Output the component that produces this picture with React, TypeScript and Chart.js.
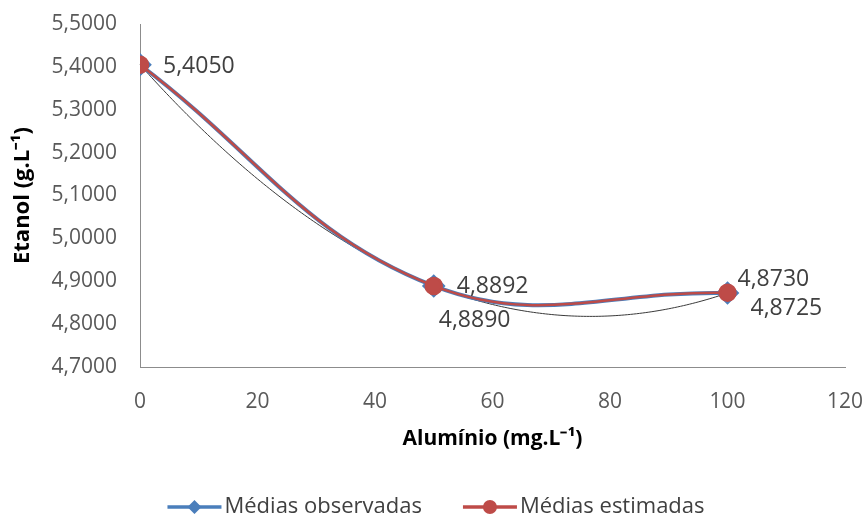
import React, { useEffect, useRef } from "react";
import { Chart, registerables } from "chart.js";

Chart.register(...registerables);

const aluminio = [0, 50, 100];
const mediasObservadas = [5.405, 4.889, 4.8725];
const mediasEstimadas = [5.405, 4.8892, 4.873];
const seriesNames = ["Médias observadas", "Médias estimadas"];
const yTicksMin = 4.7;
const yTicksMax = 5.5;
const xTicksMax = 120;

// label placement: [datasetIndex, pointIndex, dx, dy]
const labelPlacement = [
  [1, 0, 23, 2],
  [1, 1, 23, 1],
  [0, 1, 5, 34],
  [1, 2, 10, -13],
  [0, 2, 23, 15],
];

const BLUE = "#4A7EBB";
const RED = "#BE4B48";
const FONT = "'Open Sans', sans-serif";

const fmt = (v: number) => v.toFixed(4).replace(".", ",");

function polyfit2(xs: number[], ys: number[]) {
  const S = [0, 0, 0, 0, 0];
  const T = [0, 0, 0];
  for (let i = 0; i < xs.length; i++) {
    let p = 1;
    for (let k = 0; k < 5; k++) {
      S[k] += p;
      if (k < 3) T[k] += p * ys[i];
      p *= xs[i];
    }
  }
  const A = [
    [S[0], S[1], S[2], T[0]],
    [S[1], S[2], S[3], T[1]],
    [S[2], S[3], S[4], T[2]],
  ];
  for (let c = 0; c < 3; c++) {
    for (let r = c + 1; r < 3; r++) {
      const f = A[r][c] / A[c][c];
      for (let k = c; k < 4; k++) A[r][k] -= f * A[c][k];
    }
  }
  const coef = [0, 0, 0];
  for (let r = 2; r >= 0; r--) {
    let s = A[r][3];
    for (let k = r + 1; k < 3; k++) s -= A[r][k] * coef[k];
    coef[r] = s / A[r][r];
  }
  return coef;
}

const trendPlugin = {
  id: "trendline",
  beforeDatasetsDraw(chart: any) {
    const coef = polyfit2(aluminio, mediasObservadas);
    const xs = chart.scales.x;
    const ys = chart.scales.y;
    const ctx = chart.ctx;
    const x0 = aluminio[0];
    const x1 = aluminio[aluminio.length - 1];
    ctx.save();
    ctx.strokeStyle = "#3a3a3a";
    ctx.lineWidth = 1;
    ctx.beginPath();
    const n = 200;
    for (let i = 0; i <= n; i++) {
      const x = x0 + ((x1 - x0) * i) / n;
      const y = coef[0] + coef[1] * x + coef[2] * x * x;
      const px = xs.getPixelForValue(x);
      const py = ys.getPixelForValue(y);
      if (i === 0) ctx.moveTo(px, py);
      else ctx.lineTo(px, py);
    }
    ctx.stroke();
    ctx.restore();
  },
};

const labelPlugin = {
  id: "pointLabels",
  afterDatasetsDraw(chart: any) {
    const ctx = chart.ctx;
    ctx.save();
    ctx.font = `23px ${FONT}`;
    ctx.fillStyle = "#404040";
    ctx.textAlign = "left";
    ctx.textBaseline = "middle";
    for (const [di, pi, dx, dy] of labelPlacement) {
      const meta = chart.getDatasetMeta(di);
      const el = meta.data[pi];
      const v = chart.data.datasets[di].data[pi].y;
      ctx.fillText(fmt(v), el.x + dx, el.y + dy);
    }
    ctx.restore();
  },
};

const legendPlugin = {
  id: "lineLegend",
  afterDraw(chart: any) {
    const ctx = chart.ctx;
    const iconW = 54;
    const gap = 3;
    const sep = 41;
    const cy = 507;
    ctx.save();
    ctx.font = `22px ${FONT}`;
    const ds = chart.data.datasets;
    const widths = ds.map((d: any) => ctx.measureText(d.label).width);
    let total = 0;
    widths.forEach((w: number, i: number) => {
      total += iconW + gap + w + (i > 0 ? sep : 0);
    });
    let x = (chart.width - total) / 2 + 3;
    ds.forEach((d: any, i: number) => {
      ctx.strokeStyle = d.borderColor;
      ctx.fillStyle = d.borderColor;
      ctx.lineWidth = 3.5;
      ctx.beginPath();
      ctx.moveTo(x, cy);
      ctx.lineTo(x + iconW, cy);
      ctx.stroke();
      const mx = x + iconW / 2;
      ctx.beginPath();
      if (d.pointStyle === "circle") {
        ctx.arc(mx, cy, 7, 0, Math.PI * 2);
      } else {
        ctx.moveTo(mx, cy - 7);
        ctx.lineTo(mx + 7, cy);
        ctx.lineTo(mx, cy + 7);
        ctx.lineTo(mx - 7, cy);
        ctx.closePath();
      }
      ctx.fill();
      ctx.fillStyle = "#404040";
      ctx.textAlign = "left";
      ctx.textBaseline = "middle";
      ctx.fillText(d.label, x + iconW + gap, cy);
      x += iconW + gap + widths[i] + sep;
    });
    ctx.restore();
  },
};

export default function App() {
  const ref = useRef<HTMLCanvasElement>(null);
  useEffect(() => {
    document.body.style.margin = "0";
    const chart = new Chart(ref.current!, {
      type: "line",
      data: {
        datasets: [
          {
            label: seriesNames[0],
            data: aluminio.map((x, i) => ({ x, y: mediasObservadas[i] })),
            borderColor: BLUE,
            backgroundColor: BLUE,
            borderWidth: 4,
            pointStyle: "rectRot",
            pointRadius: 9,
            tension: 0.4,
            order: 1,
          },
          {
            label: seriesNames[1],
            data: aluminio.map((x, i) => ({ x, y: mediasEstimadas[i] })),
            borderColor: RED,
            backgroundColor: RED,
            borderWidth: 2.5,
            pointStyle: "circle",
            pointRadius: 8,
            tension: 0.4,
            order: 0,
          },
        ],
      },
      options: {
        animation: false,
        responsive: false,
        layout: { padding: { left: 0, right: 21, top: 24, bottom: 0 } },
        scales: {
          x: {
            type: "linear",
            min: 0,
            max: xTicksMax,
            ticks: {
              stepSize: 20,
              padding: 22,
              color: "#595959",
              font: { family: FONT, size: 21 },
            },
            grid: { display: false, drawTicks: false },
            border: { display: true, color: "#8c8c8c", width: 1 },
            title: {
              display: true,
              text: "Alumínio (mg.L⁻¹)",
              color: "#000",
              font: { family: FONT, size: 21, weight: "bold" },
              padding: { top: 0, bottom: 66 },
            },
            afterFit(scale: any) {
              scale.height = 151;
              scale.paddingLeft = 0;
              scale.paddingRight = 0;
            },
          },
          y: {
            min: yTicksMin,
            max: yTicksMax,
            ticks: {
              stepSize: 0.1,
              padding: 23,
              color: "#595959",
              font: { family: FONT, size: 21 },
              callback: (v: any) => fmt(Number(v)),
            },
            grid: { display: false, drawTicks: false },
            border: { display: true, color: "#8c8c8c", width: 1 },
            title: {
              display: true,
              text: "Etanol (g.L⁻¹)",
              color: "#000",
              font: { family: FONT, size: 22, weight: "bold" },
              padding: { top: 10, bottom: 0 },
            },
            afterFit(scale: any) {
              scale.width = 140;
              scale.paddingTop = 0;
              scale.paddingBottom = 0;
            },
          },
        },
        plugins: {
          legend: { display: false },
          tooltip: { enabled: false },
        },
      },
      plugins: [trendPlugin, labelPlugin, legendPlugin],
    } as any);
    return () => chart.destroy();
  }, []);
  return <canvas ref={ref} width={866} height={518} style={{ display: "block" }} />;
}
